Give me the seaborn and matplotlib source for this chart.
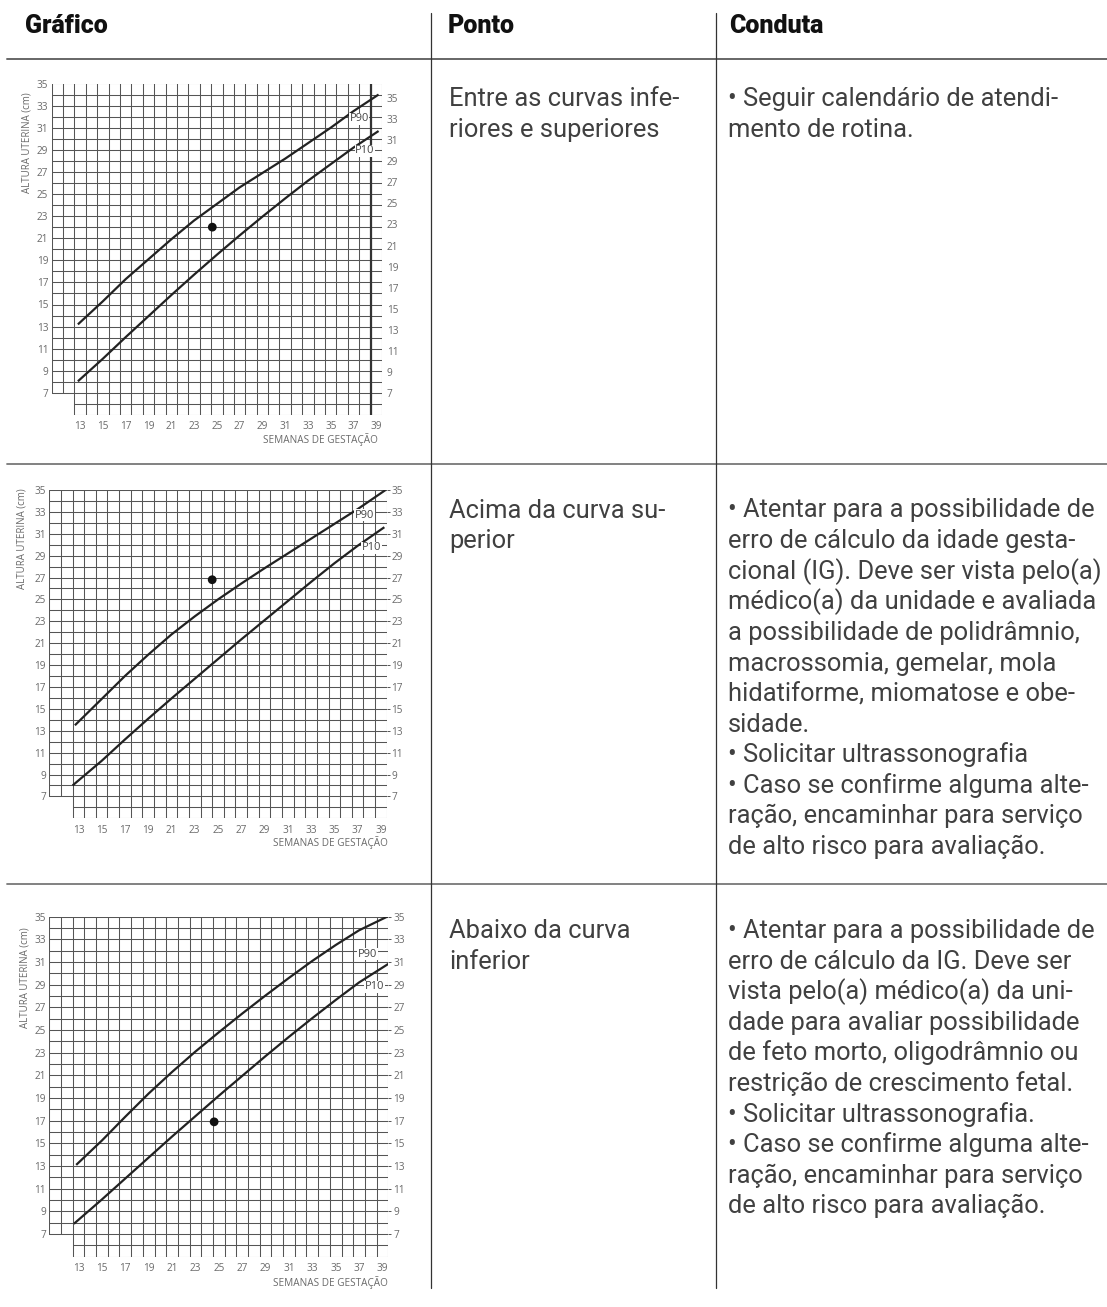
import numpy as np
import matplotlib
matplotlib.use("Agg")
import matplotlib.pyplot as plt
from matplotlib.lines import Line2D
import seaborn as sns

W, H = 1107, 1307

# rótulos dos eixos
week_ticks = list(range(13, 40, 2))
height_ticks = list(range(7, 36, 2))

# semanas intermediárias
weeks_mid = [15, 17, 19, 21, 23, 25, 27, 29, 31, 33, 35, 37]

# gráfico 1 - entre as curvas
g1_p90_weeks = [12.8] + weeks_mid + [39.2]
g1_p90 = [13.2, 15.3, 17.3, 19.1, 20.9, 22.6, 24.1, 25.6, 26.9, 28.2, 29.6, 31.0, 32.5, 34.0]
g1_p10_weeks = [12.8] + weeks_mid + [39.2]
g1_p10 = [8.05, 10.1, 12.05, 13.95, 15.85, 17.7, 19.5, 21.25, 22.95, 24.6, 26.2, 27.7, 29.2, 30.7]
g1_dot_week = [24.6]
g1_dot_height = [22.0]

# gráfico 2 - acima da curva superior
g2_p90_weeks = [12.7] + weeks_mid + [39.4]
g2_p90 = [13.5, 15.9, 18.0, 19.95, 21.8, 23.45, 25.0, 26.45, 27.85, 29.2, 30.55, 31.9, 33.25, 35.0]
g2_p10_weeks = [12.5] + weeks_mid + [39.3]
g2_p10 = [8.0, 10.25, 12.2, 14.1, 15.95, 17.75, 19.55, 21.35, 23.1, 24.85, 26.6, 28.3, 29.9, 31.6]
g2_dot_week = [24.5]
g2_dot_height = [26.8]

# gráfico 3 - abaixo da curva inferior
g3_p90_weeks = [12.8] + weeks_mid + [39.6]
g3_p90 = [13.1, 15.25, 17.35, 19.4, 21.3, 23.1, 24.8, 26.45, 28.05, 29.6, 31.1, 32.5, 33.8, 35.1]
g3_p10_weeks = [12.6] + weeks_mid + [39.6]
g3_p10 = [7.9, 10.05, 11.9, 13.75, 15.6, 17.4, 19.2, 20.95, 22.7, 24.4, 26.05, 27.65, 29.2, 30.9]
g3_dot_week = [24.6]
g3_dot_height = [16.9]

headers = ["Gráfico", "Ponto", "Conduta"]

ponto_1 = ["Entre as curvas infe-", "riores e superiores"]
conduta_1 = ["• Seguir calendário de atendi-", "mento de rotina."]

ponto_2 = ["Acima da curva su-", "perior"]
conduta_2 = [
    "• Atentar para a possibilidade de",
    "erro de cálculo da idade gesta-",
    "cional (IG). Deve ser vista pelo(a)",
    "médico(a) da unidade e avaliada",
    "a possibilidade de polidrâmnio,",
    "macrossomia, gemelar, mola",
    "hidatiforme, miomatose e obe-",
    "sidade.",
    "• Solicitar ultrassonografia",
    "• Caso se confirme alguma alte-",
    "ração, encaminhar para serviço",
    "de alto risco para avaliação.",
]

ponto_3 = ["Abaixo da curva", "inferior"]
conduta_3 = [
    "• Atentar para a possibilidade de",
    "erro de cálculo da IG. Deve ser",
    "vista pelo(a) médico(a) da uni-",
    "dade para avaliar possibilidade",
    "de feto morto, oligodrâmnio ou",
    "restrição de crescimento fetal.",
    "• Solicitar ultrassonografia.",
    "• Caso se confirme alguma alte-",
    "ração, encaminhar para serviço",
    "de alto risco para avaliação.",
]

sns.set_theme(style="white")
plt.rcParams["font.family"] = ["Roboto", "DejaVu Sans"]

fig = plt.figure(figsize=(W / 100, H / 100), dpi=100)
fig.patch.set_facecolor("white")


def fx(x):
    return x / W


def fy(y):
    return 1 - y / H


def hline(y, x0, x1, color, lw):
    fig.add_artist(Line2D([fx(x0), fx(x1)], [fy(y), fy(y)], transform=fig.transFigure,
                          color=color, lw=lw))


def vline(x, y0, y1, color, lw):
    fig.add_artist(Line2D([fx(x), fx(x)], [fy(y0), fy(y1)], transform=fig.transFigure,
                          color=color, lw=lw))


small = ["Open Sans", "DejaVu Sans"]
grid_c = "#555555"
lab_c = "#6a6a6a"


def draw_chart(rect, p90w, p90, p10w, p10, dotw, doth, lab90, lab10, right_lim,
               ylab_pos, xlab_pos, thick=False):
    left, top, right, bottom = rect
    ax = fig.add_axes([fx(left), fy(bottom), fx(right) - fx(left), (bottom - top) / H])
    ax.set_xlim(10.5, 39.5)
    ax.set_ylim(5, 35)
    ax.set_facecolor("white")
    for s in ax.spines.values():
        s.set_visible(False)

    # quadriculado (falta o canto inferior esquerdo)
    for gx in np.arange(10.5, 40, 1):
        y0 = 7 if gx < 12.5 else 5
        ax.plot([gx, gx], [y0, 35], color=grid_c, lw=0.75, zorder=1)
    for gy in np.arange(5, 36, 1):
        x0 = 12.5 if gy < 7 else 10.5
        ax.plot([x0, 39.5], [gy, gy], color=grid_c, lw=0.75, zorder=1)
    if thick:
        ax.plot([38.5, 38.5], [5, 35], color="#333333", lw=1.6, zorder=1)

    for xs, ys in [(p90w, p90), (p10w, p10)]:
        sns.lineplot(x=xs, y=ys, ax=ax, color="#222222", lw=1.6, sort=False,
                     estimator=None, zorder=3, solid_joinstyle="round",
                     solid_capstyle="butt")
    sns.scatterplot(x=dotw, y=doth, ax=ax, color="#111111", s=40, edgecolor="none",
                    zorder=4)

    for (lx, ly), txt in zip([lab90, lab10], ["P90", "P10"]):
        ax.text(lx, ly, txt, fontsize=8, color="#444444", family=small,
                ha="center", va="center", zorder=5,
                bbox=dict(fc="white", ec="none", pad=0.4))

    ax.set_xticks(week_ticks)
    ax.set_yticks(height_ticks)
    ax.set_xticklabels([str(v) for v in week_ticks])
    ax.set_yticklabels([str(v) for v in height_ticks])
    ax.tick_params(axis="x", length=0, pad=4.5, labelsize=7.2, labelcolor=lab_c)
    ax.tick_params(axis="y", length=0, pad=2.5, labelsize=7.2, labelcolor=lab_c)
    for t in ax.get_xticklabels() + ax.get_yticklabels():
        t.set_family(small)
    ax.set_xlabel("")
    ax.set_ylabel("")
    ax.grid(False)

    # escala da direita (no primeiro gráfico ela está levemente deslocada)
    ax2 = ax.twinx()
    ax2.set_ylim(*right_lim)
    ax2.set_yticks(height_ticks)
    ax2.set_yticklabels([str(v) for v in height_ticks])
    tick_len = 0 if thick else 2
    ax2.tick_params(axis="y", length=tick_len, width=0.7, color=grid_c, direction="out",
                    pad=1.5 if tick_len else 3.5, labelsize=7.2, labelcolor=lab_c)
    for t in ax2.get_yticklabels():
        t.set_family(small)
    for s in ax2.spines.values():
        s.set_visible(False)
    ax2.grid(False)

    fig.text(fx(ylab_pos[0]), fy(ylab_pos[1]), "ALTURA UTERINA (cm)", rotation=90,
             ha="center", va="top", fontsize=7, color=lab_c, family=small)
    fig.text(fx(xlab_pos[0]), fy(xlab_pos[1]), "SEMANAS DE GESTAÇÃO",
             ha="right", va="center", fontsize=7.2, color=lab_c, family=small)


draw_chart((51.7, 83.5, 382, 415), g1_p90_weeks, g1_p90, g1_p10_weeks, g1_p10,
           g1_dot_week, g1_dot_height, (37.5, 31.8), (38.0, 28.9), (4.94, 36.36),
           (27, 92), (378, 440), thick=True)
draw_chart((49.3, 490, 386.7, 818.3), g2_p90_weeks, g2_p90, g2_p10_weeks, g2_p10,
           g2_dot_week, g2_dot_height, (37.6, 32.7), (38.2, 29.7), (5, 35),
           (22, 488), (388, 843))
draw_chart((49.3, 916.7, 388.3, 1256.7), g3_p90_weeks, g3_p90, g3_p10_weeks, g3_p10,
           g3_dot_week, g3_dot_height, (37.7, 31.7), (38.3, 28.8), (5, 35),
           (25, 927), (388, 1283))

# linhas da tabela
hline(58.5, 7, W, "#666666", 1.4)
hline(464, 7, W, "#777777", 1.3)
hline(884, 7, W, "#777777", 1.3)
vline(430.7, 13, 1288, "#333333", 0.9)
vline(715.7, 13, 1288, "#333333", 0.9)

# cabeçalho
for x, txt in zip([25, 448, 729], headers):
    fig.text(fx(x), fy(33), txt, ha="left", va="baseline", fontsize=18,
             fontweight="black", color="#111111")

body_c = "#404040"
step = 30.6
for lines, x, y0 in [(ponto_1, 449, 106), (conduta_1, 728, 106),
                     (ponto_2, 449, 517.5), (conduta_2, 728, 517.5),
                     (ponto_3, 449, 938), (conduta_3, 728, 938)]:
    for i, line in enumerate(lines):
        fig.text(fx(x), fy(y0 + i * step), line, ha="left", va="baseline",
                 fontsize=18.4, color=body_c)

fig.savefig("out.png", dpi=100)
